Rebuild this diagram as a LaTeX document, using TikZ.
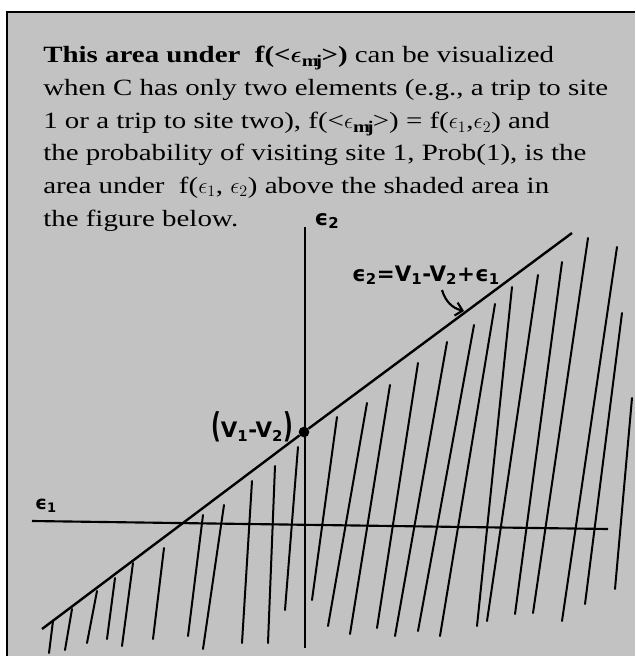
\documentclass[tikz,border=0pt]{standalone}
\usepackage{amsmath,amssymb}
\usepackage{fontspec}
\setmainfont{Liberation Serif}[FakeStretch=1.24]
\newfontfamily\handfont{DejaVu Sans}
\usepackage{tikz}
\usetikzlibrary{arrows.meta, positioning}

\tikzset{
  txtline/.style={anchor=base west, inner sep=0pt, font=\fontsize{17.5}{20}\selectfont},
  hand/.style={inner sep=0pt, font=\handfont\bfseries\fontsize{16}{16}\selectfont},
  hatch/.style={line width=1.5pt, line cap=round},
  axisline/.style={line width=1.6pt},
}

\begin{document}
\begin{tikzpicture}[x=0.75pt, y=-0.75pt, >=Stealth]
  \useasboundingbox (0,0) rectangle (635,656);

  % Shaded page and frame
  \fill[black!24] (7,12) rectangle (635,656);
  \draw[line width=2.2pt] (7,656) -- (7,12) -- (635,12);

  % Text
  \node[txtline] (l1) at (43,63) {\textbf{This area under\ \ f(<$\boldsymbol{\epsilon}_{\mathbf{mj}}$>)} can be visualized};
  \node[txtline] (l2) at (43,96) {when C has only two elements (e.g., a trip to site};
  \node[txtline] (l3) at (43,129) {1 or a trip to site two), f(<$\epsilon_{\mathbf{mj}}$>) = f($\epsilon_1$,$\epsilon_2$) and};
  \node[txtline] (l4) at (43,161) {the probability of visiting site 1, Prob(1), is the};
  \node[txtline] (l5) at (43,193) {area under\ \ f($\epsilon_1$, $\epsilon_2$) above the shaded area in};
  \node[txtline] (l6) at (43,226) {the figure below.};

  % Axes
  \coordinate (e1w) at (32,521);
  \coordinate (e1e) at (608,529);
  \coordinate (e2n) at (305,227);
  \coordinate (e2s) at (305,648);
  \draw[axisline] (e1w) -- (e1e);
  \draw[axisline] (e2n) -- (e2s);
  \node[hand, font=\handfont\bfseries\fontsize{14}{14}\selectfont] (e1lab) at (46,506) {ϵ\textsubscript{1}};
  \node[hand] (e2lab) at (327,221) {ϵ\textsubscript{2}};

  % Line e2 = V1 - V2 + e1
  \coordinate (lo) at (42,629);
  \coordinate (hi) at (572,233);
  \node[circle, fill, inner sep=0pt, minimum size=8pt] (pt) at (304,432) {};
  \draw[line width=1.8pt] (lo) -- (pt) -- (hi);
  \node[hand] (v12) at (252,427) {\scalebox{1}[1.6]{(}V\textsubscript{1}-V\textsubscript{2}\scalebox{1}[1.6]{)}};
  \node[hand] (eq) at (426,275) {ϵ\textsubscript{2}=V\textsubscript{1}-V\textsubscript{2}+ϵ\textsubscript{1}};
  \coordinate (tail) at (442,290);
  \coordinate (tip) at (464,311);
  \draw[->, line width=1.6pt, >={Straight Barb[length=5pt]}] (tail) to[bend right=30] (tip);

  % Hatching below the line
  \foreach \xa/\ya/\xb/\yb in {53/621/49/653, 72/609/65/650, 97/591/87/643, 115/578/107/639,
      133/563/122/646, 164/548/153/639, 203/515/188/636, 224/505/203/649, 252/481/242/643,
      275/466/268/643, 298/447/285/610, 337/417/312/600, 367/403/328/626, 390/385/350/634,
      418/363/377/628, 447/342/395/636, 474/325/418/631, 495/304/440/636, 512/287/477/626,
      538/275/487/621, 562/262/515/614, 588/238/533/613, 617/247/562/621, 622/313/585/604,
      632/398/615/589}
    \draw[hatch] (\xa,\ya) -- (\xb,\yb);
\end{tikzpicture}
\end{document}
